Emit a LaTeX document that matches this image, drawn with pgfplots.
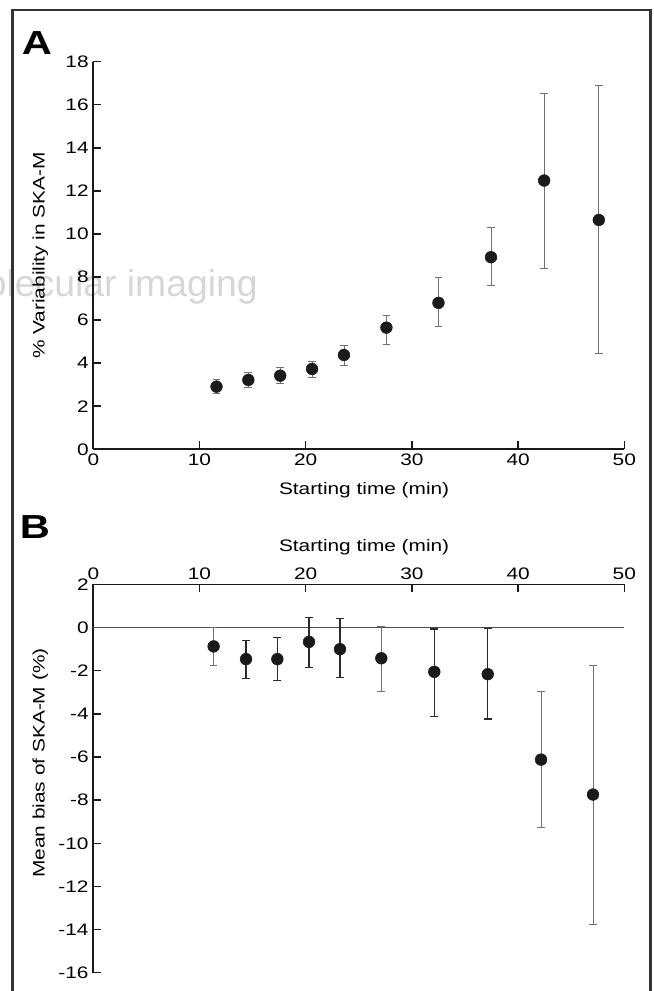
\documentclass[border=0pt]{standalone}
\usepackage{fontspec}
\setmainfont{Liberation Sans}[FakeStretch=1.25]
\newfontfamily\wmfont{Liberation Sans}
\usepackage{pgfplots}
\pgfplotsset{compat=1.18}
\usepackage{pgfplotstable}

\definecolor{ink}{HTML}{1A1A1A}
\definecolor{barlight}{HTML}{707070}
\definecolor{bardark}{HTML}{2A2A2A}

% panel A: % variability, mean with low/high ends of the bar
\pgfplotstableread{
x     y     lo    hi
11.6  2.91  2.60  3.25
14.6  3.22  2.88  3.56
17.6  3.42  3.07  3.79
20.6  3.73  3.34  4.09
23.6  4.38  3.88  4.84
27.6  5.65  4.86  6.24
32.5  6.80  5.69  7.97
37.45 8.92  7.63  10.29
42.45 12.48 8.42  16.53
47.6  10.65 4.43  16.89
}\varA

% panel B: mean bias, bars drawn dark
\pgfplotstableread{
x     y     lo     hi
14.38 -1.46 -2.36  -0.60
17.33 -1.46 -2.45  -0.47
20.31 -0.66 -1.85  0.47
23.23 -1.00 -2.31  0.41
32.11 -2.05 -4.12  -0.06
37.14 -2.16 -4.23  -0.05
}\biasDark

% panel B: mean bias, bars drawn light
\pgfplotstableread{
x     y     lo     hi
11.33 -0.87 -1.77  0.00
27.12 -1.42 -2.98  0.05
42.16 -6.12 -9.24  -2.98
47.05 -7.74 -13.76 -1.74
}\biasLight

\newcommand{\lbl}{\fontsize{12.5}{15}\selectfont}

\pgfplotsset{
  panel/.style={
    scale only axis, width=398.25pt,
    xmin=0, xmax=50, xtick={0,10,...,50},
    tick align=inside, major tick length=6pt,
    axis line style={line width=1.4pt, ink},
    every tick/.style={line width=1.1pt, ink},
    tick label style={font=\lbl},
    label style={font=\lbl},
    /pgf/number format/assume math mode=true,
    clip=false,
  },
  dots/.style 2 args={only marks, mark=*, mark size=4.4pt,
    mark options={draw=ink, fill=ink},
    error bars/.cd, y dir=both, y explicit,
    error bar style={line width=#2, #1},
    error mark options={rotate=90, line width=#2, #1, mark size=2.9pt}},
}

\begin{document}
\begin{tikzpicture}
\useasboundingbox (0,0) rectangle (489.75pt,743.25pt);

\node[anchor=east, font=\wmfont\fontsize{28}{28}\selectfont, text=black!16, inner sep=0pt]
  at (193.5pt,528pt) {molecular imaging};

\draw[line width=1.6pt, black!80] (9.375pt,-5pt) -- (9.375pt,735.75pt)
  -- (487.875pt,735.75pt) -- (487.875pt,-5pt);

\node[font=\fontsize{25}{25}\selectfont\bfseries] at (27.75pt,711pt) {A};
\node[font=\fontsize{25}{25}\selectfont\bfseries] at (26.25pt,348pt) {B};

\begin{axis}[panel,
  at={(69.975pt,406.275pt)}, anchor=south west, height=290.7pt,
  ymin=0, ymax=18, ytick={0,2,...,18},
  axis x line*=bottom, axis y line*=left,
  xlabel={Starting time (min)},
  ylabel={\% Variability in SKA-M},
  xlabel style={at={(axis description cs:0.51,-0.105)}, anchor=center},
  ylabel style={at={(axis description cs:-0.1,0.5)}, anchor=center},
]
\addplot[dots={barlight}{0.6pt}] table[x=x, y=y,
  y error plus expr=\thisrow{hi}-\thisrow{y},
  y error minus expr=\thisrow{y}-\thisrow{lo}] {\varA};
\end{axis}

\begin{axis}[panel,
  at={(69.975pt,13.725pt)}, anchor=south west, height=291.15pt,
  ymin=-16, ymax=2, ytick={-16,-14,...,2},
  axis x line*=top, axis y line*=left,
  xlabel={Starting time (min)},
  ylabel={Mean bias of SKA-M (\%)},
  xlabel style={at={(axis description cs:0.51,1.0966)}, anchor=center},
  ylabel style={at={(axis description cs:-0.1,0.54)}, anchor=center},
]
\addplot[line width=0.9pt, black!70, no marks] coordinates {(0,0) (50,0)};
\addplot[dots={barlight}{0.6pt}] table[x=x, y=y,
  y error plus expr=\thisrow{hi}-\thisrow{y},
  y error minus expr=\thisrow{y}-\thisrow{lo}] {\biasLight};
\addplot[dots={bardark}{1pt}] table[x=x, y=y,
  y error plus expr=\thisrow{hi}-\thisrow{y},
  y error minus expr=\thisrow{y}-\thisrow{lo}] {\biasDark};
\end{axis}
\end{tikzpicture}
\end{document}
